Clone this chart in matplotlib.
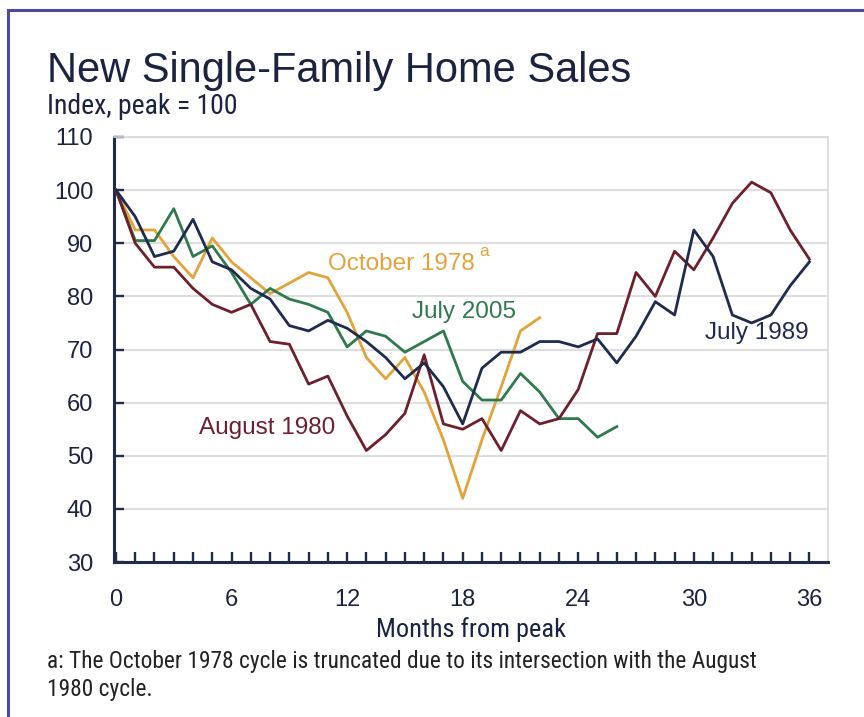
import matplotlib
matplotlib.use("Agg")
import matplotlib.pyplot as plt
from matplotlib.patches import Rectangle
from matplotlib.ticker import MultipleLocator

plt.rcParams["font.family"] = ["Liberation Sans", "DejaVu Sans"]
NARROW = ["Liberation Sans Narrow", "Arial Narrow", "Roboto Condensed", "Liberation Sans"]

# Index of new single-family home sales, peak month = 100
months_89 = list(range(0, 37))
july_1989 = [100, 95, 87.5, 88.5, 94.5, 86.5, 85, 81.5, 79.5, 74.5, 73.5, 75.5, 74,
             71.5, 68.5, 64.5, 67.5, 63, 56, 66.5, 69.5, 69.5, 71.5, 71.5, 70.5, 72,
             67.5, 72.5, 79, 76.5, 92.5, 87.5, 76.5, 75, 76.5, 82, 86.5]

months_80 = list(range(0, 37))
august_1980 = [100, 90, 85.5, 85.5, 81.5, 78.5, 77, 78.5, 71.5, 71, 63.5, 65, 57.5,
               51, 54, 58, 69, 56, 55, 57, 51, 58.5, 56, 57, 62.5, 73, 73, 84.5,
               80, 88.5, 85, 91, 97.5, 101.5, 99.5, 92.5, 87]

months_05 = list(range(0, 27))
july_2005 = [100, 90.5, 90.5, 96.5, 87.5, 89.5, 84.5, 78.5, 81.5, 79.5, 78.5, 77,
             70.5, 73.5, 72.5, 69.5, 71.5, 73.5, 64, 60.5, 60.5, 65.5, 62, 57, 57,
             53.5, 55.5]

months_78 = list(range(0, 23))
october_1978 = [100, 92.5, 92.5, 87.5, 83.5, 91, 86.5, 83.5, 80.5, 82.5, 84.5, 83.5,
                77, 68.5, 64.5, 68.5, 62, 53, 42, 53, 63, 73.5, 76]

x_ticks = [0, 6, 12, 18, 24, 30, 36]
y_ticks = [30, 40, 50, 60, 70, 80, 90, 100, 110]

NAVY = "#1f2a4e"
MAROON = "#6e1f2c"
GREEN = "#2f7a4c"
ORANGE = "#e3a33a"
TEXT = "#1c2340"

fig = plt.figure(figsize=(8.64, 7.17), dpi=100)
fig.patch.set_facecolor("white")

# outer frame (left and top edges visible)
fig.patches.append(Rectangle((0.009, -0.2), 1.2, 1.186, transform=fig.transFigure,
                             fill=False, edgecolor="#4b4a9c", linewidth=2.2))

ax = fig.add_axes([0.132, 0.216, 0.826, 0.593])
ax.set_xlim(-0.1, 36.95)
ax.set_ylim(30, 110)

for yv in y_ticks[1:]:
    ax.axhline(yv, color="#dedede", linewidth=1.6, zorder=0)

lw = 2.0
ax.plot(months_78, october_1978, color=ORANGE, lw=lw, zorder=3)
ax.plot(months_05, july_2005, color=GREEN, lw=lw, zorder=4)
ax.plot(months_80, august_1980, color=MAROON, lw=lw, zorder=5)
ax.plot(months_89, july_1989, color=NAVY, lw=lw, zorder=6)

for side in ("top", "right"):
    ax.spines[side].set_color("#d8d8d8")
    ax.spines[side].set_linewidth(1.2)
for side in ("left", "bottom"):
    ax.spines[side].set_color(NAVY)
    ax.spines[side].set_linewidth(2.2)

ax.set_xticks(x_ticks)
ax.xaxis.set_minor_locator(MultipleLocator(1))
ax.set_yticks(y_ticks)
ax.tick_params(axis="x", which="both", direction="in", length=7, width=1.7,
               color=NAVY, labelsize=17, labelcolor=TEXT, pad=19)
ax.tick_params(axis="y", which="both", direction="in", length=7, width=1.7,
               color=NAVY, labelsize=17, labelcolor=TEXT, pad=15)
ax.tick_params(axis="y", which="minor", length=0)

ax.set_xlabel("Months from peak", fontsize=19, color=TEXT, labelpad=5,
              family=NARROW)

lab = 17.5
ax.text(11.0, 86.1, "October 1978", color=ORANGE, fontsize=lab, va="center")
ax.text(18.85, 88.4, "a", color=ORANGE, fontsize=12.5, va="center")
ax.text(15.35, 77.1, "July 2005", color=GREEN, fontsize=lab, va="center")
ax.text(30.6, 73.1, "July 1989", color=NAVY, fontsize=lab, va="center")
ax.text(4.3, 55.2, "August 1980", color=MAROON, fontsize=lab, va="center")

fig.text(0.054, 0.901, "New Single-Family Home Sales", fontsize=30, color=TEXT,
         va="center", ha="left")
fig.text(0.054, 0.851, "Index, peak = 100", fontsize=20, color=TEXT,
         va="center", ha="left", family=NARROW)
fig.text(0.054, 0.058,
         "a: The October 1978 cycle is truncated due to its intersection with the August\n1980 cycle.",
         fontsize=16.8, color="#222222", va="center", ha="left", linespacing=1.25,
         family=NARROW)

fig.savefig("out.png", dpi=100, facecolor="white")
